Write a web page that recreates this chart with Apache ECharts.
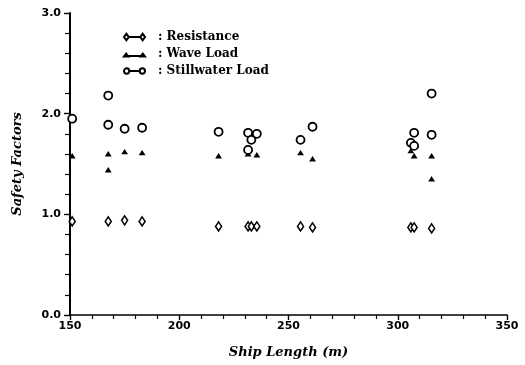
<!DOCTYPE html>
<html>
<head>
<meta charset="utf-8">
<script src="https://cdn.jsdelivr.net/npm/echarts@6/dist/echarts.min.js"></script>
<style>
  html, body { margin: 0; padding: 0; background: #fff; }
  #chart { width: 525px; height: 365px; }
</style>
</head>
<body>
<div id="chart"></div>
<script>
// ship length (m) / safety factor pairs
const resistance = [
  [151, 0.93], [167.5, 0.93], [175, 0.94], [183, 0.93],
  [218, 0.88], [231.5, 0.88], [233, 0.88], [235.5, 0.88],
  [255.5, 0.88], [261, 0.87],
  [306, 0.87], [307.5, 0.87], [315.5, 0.86],
];
const waveLoad = [
  [151, 1.58], [167.5, 1.60], [167.5, 1.44], [175, 1.62], [183, 1.61],
  [218, 1.58], [231.5, 1.60], [235.5, 1.59],
  [255.5, 1.61], [261, 1.55],
  [306, 1.63], [307.5, 1.58], [315.5, 1.58], [315.5, 1.35],
];
const stillwaterLoad = [
  [151, 1.95], [167.5, 2.18], [167.5, 1.89], [175, 1.85], [183, 1.86],
  [218, 1.82], [231.5, 1.81], [231.5, 1.64], [233, 1.74], [235.5, 1.80],
  [255.5, 1.74], [261, 1.87],
  [306, 1.71], [307.5, 1.68], [307.5, 1.81], [315.5, 2.20], [315.5, 1.79],
];
const seriesNames = ['Resistance', 'Wave Load', 'Stillwater Load'];

const tickFont = { fontFamily: 'DejaVu Sans', fontWeight: 'bold', fontSize: 11, color: '#000' };
const titleFont = { fontFamily: 'DejaVu Serif', fontWeight: 'bold', fontStyle: 'italic', fontSize: 13, color: '#000' };

// legend icons: marker - line - marker
const icons = {
  Resistance: 'path://M0,4L2.5,0.5L5,4L2.5,7.5ZM5,4L17,4M17,4L19.5,0.5L22,4L19.5,7.5Z',
  'Wave Load': 'path://M0,0M0,6.5L2.3,3.5L4.6,6.5ZM4.6,6L17.4,6M17.4,6.5L19.7,3.5L22,6.5ZM22,8',
  'Stillwater Load': 'path://M0.3,4A2.7,2.7,0,1,1,5.7,4A2.7,2.7,0,1,1,0.3,4ZM5.7,4L16.3,4M16.3,4A2.7,2.7,0,1,1,21.7,4A2.7,2.7,0,1,1,16.3,4Z',
};

const myChart = echarts.init(document.getElementById('chart'), null, { renderer: 'canvas' });

myChart.setOption({
  animation: false,
  backgroundColor: '#fff',
  grid: { left: 70, right: 18, top: 13, bottom: 50 },
  legend: {
    orient: 'vertical',
    left: 118,
    top: 26,
    itemWidth: 21,
    itemHeight: 8,
    itemGap: 5,
    data: seriesNames.map((n) => ({ name: n, icon: icons[n] })),
    formatter: (name) => ': ' + name,
    textStyle: {
      fontFamily: 'DejaVu Serif',
      fontWeight: 'bold',
      fontSize: 12,
      color: '#000',
      padding: [0, 0, 0, 8],
    },
  },
  xAxis: {
    type: 'value',
    min: 150,
    max: 350,
    interval: 50,
    name: 'Ship Length (m)',
    nameLocation: 'middle',
    nameGap: 31,
    nameTextStyle: titleFont,
    axisLine: { onZero: false, lineStyle: { color: '#000', width: 1.6 } },
    axisTick: { show: true, length: 5, lineStyle: { color: '#000', width: 1.4 } },
    minorTick: { show: true, splitNumber: 5, length: 4, lineStyle: { color: '#000', width: 1.2 } },
    axisLabel: { ...tickFont, margin: 6 },
    splitLine: { show: false },
  },
  yAxis: {
    type: 'value',
    min: 0,
    max: 3,
    interval: 1,
    name: 'Safety Factors',
    nameLocation: 'middle',
    nameGap: 46,
    nameTextStyle: titleFont,
    axisLine: { lineStyle: { color: '#000', width: 2 } },
    axisTick: { show: true, length: 6, lineStyle: { color: '#000', width: 1.4 } },
    minorTick: { show: true, splitNumber: 5, length: 5, lineStyle: { color: '#000', width: 1.2 } },
    axisLabel: { ...tickFont, margin: 9, formatter: (v) => v.toFixed(1) },
    splitLine: { show: false },
  },
  series: [
    {
      name: 'Resistance',
      type: 'scatter',
      data: resistance,
      symbol: 'diamond',
      symbolSize: [6, 9],
      itemStyle: { color: '#fff', borderColor: '#000', borderWidth: 1.6, opacity: 1 },
    },
    {
      name: 'Wave Load',
      type: 'scatter',
      data: waveLoad,
      symbol: 'triangle',
      symbolSize: [5, 4],
      itemStyle: { color: '#000', borderColor: '#000', borderWidth: 1, opacity: 1 },
    },
    {
      name: 'Stillwater Load',
      type: 'scatter',
      data: stillwaterLoad,
      symbol: 'circle',
      symbolSize: 8,
      itemStyle: { color: '#fff', borderColor: '#000', borderWidth: 1.8, opacity: 1 },
    },
  ],
});
</script>
</body>
</html>
